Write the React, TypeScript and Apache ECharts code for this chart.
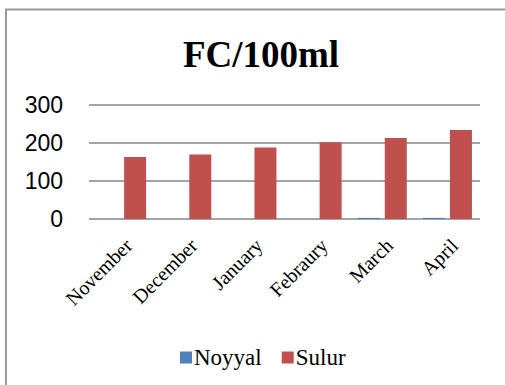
import React, { useEffect, useRef } from "react";
import * as echarts from "echarts";

const categories = ["November", "December", "January", "Febraury", "March", "April"];
const noyyal = [0, 0, 0, 0, 3, 3];
const sulur = [163, 170, 188, 202, 213, 234];
const yTicks = [0, 100, 200, 300];

export default function App() {
  const ref = useRef<HTMLDivElement>(null);
  useEffect(() => {
    if (!ref.current) return;
    const chart = echarts.init(ref.current, null, { renderer: "svg" });
    chart.setOption({
      animation: false,
      backgroundColor: "#ffffff",
      title: {
        text: "FC/100ml",
        left: 256,
        textAlign: "center",
        top: 31,
        textStyle: {
          fontFamily: "Liberation Serif",
          fontWeight: "bold",
          fontSize: 37,
          color: "#000000",
        },
      },
      graphic: [
        {
          type: "polyline",
          shape: { points: [[6, 400], [6, 9.5], [520, 9.5]] },
          style: { stroke: "#9a9a9a", lineWidth: 2, fill: "none" },
          silent: true,
        },
      ],
      legend: {
        data: ["Noyyal", "Sulur"],
        left: 175,
        top: 341,
        icon: "rect",
        itemWidth: 12,
        itemHeight: 12,
        itemGap: 20,
        textStyle: {
          fontFamily: "Liberation Serif",
          fontSize: 23,
          color: "#000000",
          padding: [0, 0, 0, -3],
        },
      },
      grid: { left: 89, right: 25, top: 105, bottom: 166 },
      xAxis: {
        type: "category",
        data: categories,
        axisLine: { show: false },
        axisTick: { show: false },
        axisLabel: {
          rotate: 45,
          margin: 16,
          interval: 0,
          verticalAlign: "top",
          fontFamily: "Liberation Serif",
          fontSize: 20,
          color: "#000000",
        },
      },
      yAxis: {
        type: "value",
        min: 0,
        max: yTicks[yTicks.length - 1],
        interval: 100,
        axisLine: { show: false },
        axisTick: { show: false },
        splitLine: { lineStyle: { color: "#868686", width: 1.5 } },
        axisLabel: {
          margin: 26,
          fontFamily: "Liberation Sans",
          fontSize: 23,
          color: "#000000",
        },
      },
      series: [
        {
          name: "Noyyal",
          type: "bar",
          data: noyyal,
          barWidth: 22,
          barGap: "23%",
          itemStyle: { color: "#4F81BD" },
        },
        {
          name: "Sulur",
          type: "bar",
          data: sulur,
          barWidth: 22,
          barGap: "23%",
          itemStyle: { color: "#C0504D" },
        },
      ],
    });
    return () => chart.dispose();
  }, []);
  return (
    <div
      ref={ref}
      style={{ position: "fixed", left: 0, top: 0, width: 505, height: 385 }}
    />
  );
}
